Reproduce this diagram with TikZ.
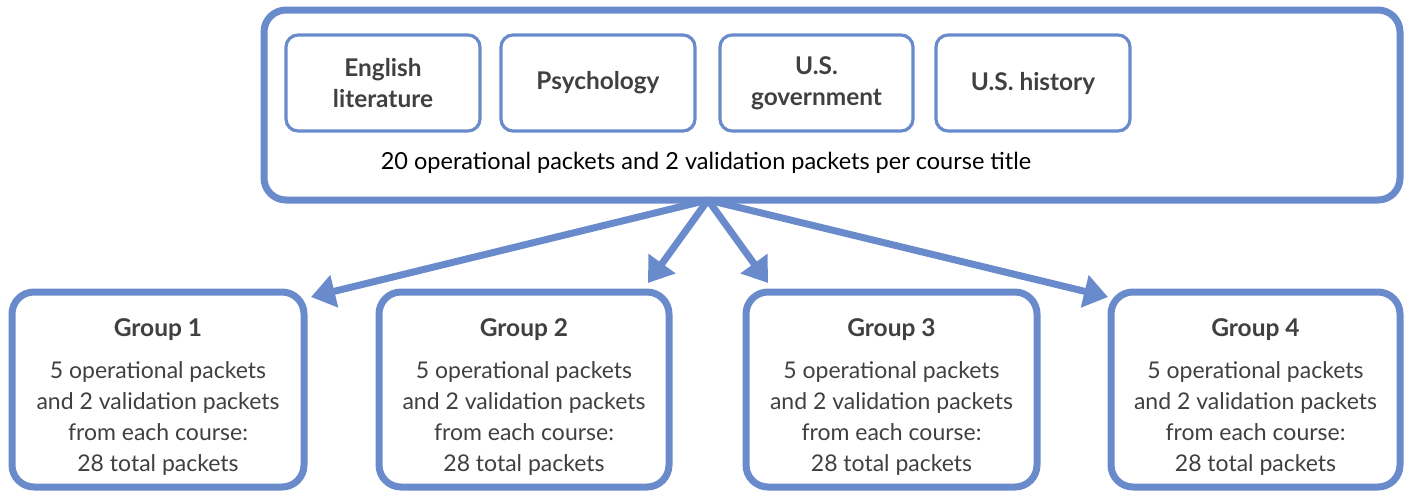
\documentclass[tikz,border=0pt]{standalone}
\usepackage{fontspec}
\setmainfont{Lato}
\usetikzlibrary{arrows.meta}
\definecolor{bl}{HTML}{6A8BCB}
\definecolor{tx}{HTML}{404040}
\begin{document}
\begin{tikzpicture}[x=1pt,y=-1pt,
  bigbox/.style={draw=bl,line width=7pt,rounded corners=22pt},
  course/.style={draw=bl,line width=3.2pt,rounded corners=12pt},
  ctext/.style={font=\fontsize{24.4}{31}\selectfont\bfseries,text=tx,align=center},
  gtitle/.style={font=\fontsize{24.5}{31}\selectfont\bfseries,text=tx},
  gtext/.style={font=\fontsize{23}{31}\selectfont,text=tx,align=center},
  arr/.style={draw=bl,line width=7pt,-{Triangle[length=24pt,width=32pt]}}]
\useasboundingbox (0,0) rectangle (1409,491);
% top
\draw[bigbox] (264,10) rectangle (1400,200);
\coordinate (src) at (708,200);
\node[course,minimum width=194pt,minimum height=96pt] (c1) at (383,83) {};
\node[ctext] at (c1) {English\\literature};
\node[course,minimum width=194pt,minimum height=96pt] (c2) at (598,83) {};
\node[ctext] at (c2) {Psychology};
\node[course,minimum width=193pt,minimum height=96pt] (c3) at (816.5,83) {};
\node[ctext] at (c3) {U.S.\\government};
\node[course,minimum width=194pt,minimum height=96pt] (c4) at (1033,83) {};
\node[ctext] at (c4) {U.S. history};
\node[font=\fontsize{23.5}{28}\selectfont,text=black] (t) at (706,163) {20 operational packets and 2 validation packets per course title};
% groups
\foreach \n/\cx/\w in {1/158/292,2/524/290,3/891.5/291,4/1255.5/289}{
  \node[bigbox,minimum width=\w pt,minimum height=195pt] (g\n) at (\cx,389.5) {};
  \node[gtitle] (h\n) at (\cx,330) {Group \n};
  \node[gtext] (b\n) at (\cx,418) {5 operational packets\\and 2 validation packets\\from each course:\\28 total packets};
}
\coordinate (a1) at (311,297);
\coordinate (a2) at (648,283);
\coordinate (a3) at (768,283);
\coordinate (a4) at (1108,297);
\foreach \n in {1,2,3,4}{\draw[arr] (src) -- (a\n);}
\end{tikzpicture}
\end{document}
